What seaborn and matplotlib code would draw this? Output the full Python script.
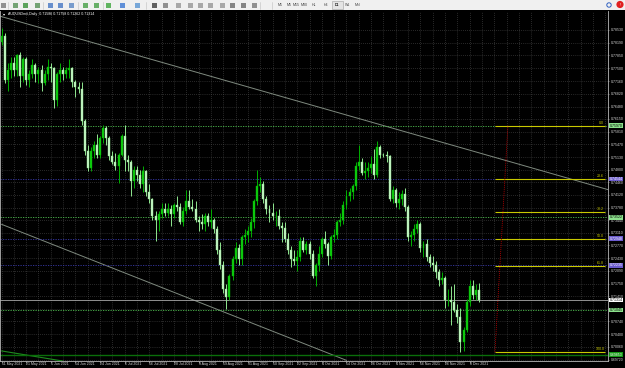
import numpy as np
import pandas as pd
import matplotlib
matplotlib.use("Agg")
import matplotlib.pyplot as plt
import matplotlib.transforms as mtransforms
from matplotlib.patches import Rectangle, Circle
import seaborn as sns

sns.set_style("dark")
plt.rcParams['font.family'] = ['Liberation Sans', 'DejaVu Sans']

# ---------------- data (AUDUSD daily) ----------------
opens = [0.7822,0.7838,0.7720,0.7745,0.7765,0.7745,0.7785,0.7730,0.7775,0.7720,
         0.7735,0.7760,0.7735,0.7745,0.7710,0.7735,0.7755,0.7750,0.7665,0.7735,
         0.7745,0.7735,0.7745,0.7750,0.7715,0.7700,0.7695,0.7610,0.7530,0.7485,
         0.7530,0.7545,0.7520,0.7565,0.7590,0.7565,0.7515,0.7500,0.7490,0.7520,
         0.7570,0.7505,0.7500,0.7450,0.7480,0.7465,0.7440,0.7475,0.7420,0.7400,
         0.7355,0.7345,0.7360,0.7375,0.7365,0.7375,0.7360,0.7385,0.7380,0.7340,
         0.7370,0.7395,0.7380,0.7375,0.7345,0.7340,0.7335,0.7355,0.7340,0.7345,
         0.7320,0.7265,0.7225,0.7160,0.7140,0.7195,0.7240,0.7270,0.7240,0.7300,
         0.7305,0.7315,0.7340,0.7395,0.7435,0.7440,0.7400,0.7375,0.7365,0.7355,
         0.7355,0.7330,0.7325,0.7295,0.7265,0.7240,0.7235,0.7245,0.7290,0.7265,
         0.7280,0.7255,0.7195,0.7225,0.7255,0.7295,0.7280,0.7250,0.7300,0.7305,
         0.7340,0.7345,0.7385,0.7410,0.7420,0.7435,0.7490,0.7500,0.7470,0.7475,
         0.7485,0.7495,0.7465,0.7540,0.7520,0.7518,0.7515,0.7400,0.7425,0.7390,
         0.7400,0.7415,0.7380,0.7300,0.7305,0.7320,0.7335,0.7270,0.7280,0.7245,
         0.7230,0.7225,0.7205,0.7185,0.7190,0.7130,0.7130,0.7125,0.7105,0.7085,
         0.7020,0.7050,0.7125,0.7170,0.7145,0.71586]
highs = [0.7858,0.7845,0.7765,0.7780,0.7780,0.7790,0.7795,0.7780,0.7780,0.7745,
         0.7775,0.7765,0.7755,0.7760,0.7745,0.7775,0.7765,0.7755,0.7740,0.7765,
         0.7755,0.7755,0.7775,0.7755,0.7720,0.7715,0.7715,0.7615,0.7545,0.7540,
         0.7555,0.7575,0.7570,0.7600,0.7595,0.7570,0.7530,0.7525,0.7525,0.7575,
         0.7600,0.7520,0.7505,0.7490,0.7490,0.7480,0.7490,0.7480,0.7440,0.7405,
         0.7370,0.7370,0.7390,0.7390,0.7390,0.7385,0.7390,0.7410,0.7390,0.7380,
         0.7425,0.7425,0.7400,0.7395,0.7355,0.7360,0.7365,0.7365,0.7375,0.7350,
         0.7330,0.7285,0.7235,0.7175,0.7200,0.7250,0.7285,0.7280,0.7305,0.7320,
         0.7330,0.7350,0.7400,0.7478,0.7460,0.7450,0.7410,0.7385,0.7390,0.7370,
         0.7375,0.7340,0.7340,0.7310,0.7275,0.7265,0.7265,0.7300,0.7300,0.7290,
         0.7290,0.7265,0.7230,0.7275,0.7300,0.7315,0.7285,0.7305,0.7320,0.7345,
         0.7365,0.7395,0.7425,0.7430,0.7440,0.7500,0.7545,0.7510,0.7500,0.7500,
         0.7515,0.7535,0.7556,0.7545,0.7524,0.7530,0.7520,0.7435,0.7430,0.7420,
         0.7425,0.7430,0.7385,0.7315,0.7335,0.7345,0.7340,0.7290,0.7295,0.7255,
         0.7250,0.7235,0.7215,0.7205,0.7195,0.7160,0.7170,0.7175,0.7120,0.7110,
         0.7060,0.7135,0.7185,0.7185,0.7175,0.71758]
lows = [0.7812,0.7712,0.7690,0.7725,0.7730,0.7730,0.7700,0.7715,0.7705,0.7700,
        0.7725,0.7715,0.7710,0.7690,0.7705,0.7720,0.7715,0.7645,0.7650,0.7715,
        0.7720,0.7725,0.7725,0.7700,0.7675,0.7685,0.7600,0.7520,0.7475,0.7475,
        0.7510,0.7510,0.7510,0.7550,0.7545,0.7505,0.7495,0.7480,0.7445,0.7515,
        0.7475,0.7475,0.7410,0.7430,0.7450,0.7430,0.7420,0.7410,0.7390,0.7345,
        0.7290,0.7315,0.7350,0.7355,0.7355,0.7330,0.7350,0.7370,0.7335,0.7330,
        0.7360,0.7375,0.7370,0.7340,0.7315,0.7320,0.7315,0.7330,0.7325,0.7310,
        0.7255,0.7215,0.7150,0.7106,0.7130,0.7185,0.7230,0.7225,0.7225,0.7280,
        0.7285,0.7300,0.7325,0.7385,0.7420,0.7390,0.7360,0.7340,0.7345,0.7330,
        0.7320,0.7285,0.7285,0.7255,0.7220,0.7225,0.7210,0.7235,0.7260,0.7255,
        0.7240,0.7190,0.7170,0.7210,0.7245,0.7270,0.7225,0.7240,0.7285,0.7295,
        0.7330,0.7335,0.7375,0.7395,0.7400,0.7425,0.7480,0.7465,0.7455,0.7460,
        0.7470,0.7455,0.7460,0.7510,0.7514,0.7500,0.7395,0.7390,0.7380,0.7375,
        0.7385,0.7370,0.7290,0.7275,0.7290,0.7310,0.7260,0.7245,0.7235,0.7220,
        0.7210,0.7190,0.7170,0.7175,0.7110,0.7115,0.7065,0.7100,0.7070,0.6993,
        0.6995,0.7045,0.7115,0.7135,0.7130,0.71262]
closes = [0.7838,0.7720,0.7745,0.7765,0.7745,0.7785,0.7730,0.7775,0.7720,0.7735,
          0.7760,0.7735,0.7745,0.7710,0.7735,0.7755,0.7750,0.7665,0.7735,0.7745,
          0.7735,0.7745,0.7750,0.7715,0.7700,0.7695,0.7610,0.7530,0.7485,0.7530,
          0.7545,0.7520,0.7565,0.7590,0.7565,0.7515,0.7500,0.7490,0.7520,0.7570,
          0.7505,0.7500,0.7450,0.7480,0.7465,0.7440,0.7475,0.7420,0.7400,0.7355,
          0.7345,0.7360,0.7375,0.7365,0.7375,0.7360,0.7385,0.7380,0.7340,0.7370,
          0.7395,0.7380,0.7375,0.7345,0.7340,0.7335,0.7355,0.7340,0.7345,0.7320,
          0.7265,0.7225,0.7160,0.7140,0.7195,0.7240,0.7270,0.7240,0.7300,0.7305,
          0.7315,0.7340,0.7395,0.7435,0.7440,0.7400,0.7375,0.7365,0.7355,0.7355,
          0.7330,0.7325,0.7295,0.7265,0.7240,0.7235,0.7245,0.7290,0.7265,0.7280,
          0.7255,0.7195,0.7225,0.7255,0.7295,0.7280,0.7250,0.7300,0.7305,0.7340,
          0.7345,0.7385,0.7410,0.7420,0.7435,0.7490,0.7500,0.7470,0.7475,0.7485,
          0.7495,0.7465,0.7540,0.7520,0.7518,0.7515,0.7400,0.7425,0.7390,0.7400,
          0.7415,0.7380,0.7300,0.7305,0.7320,0.7335,0.7270,0.7280,0.7245,0.7230,
          0.7225,0.7205,0.7185,0.7190,0.7130,0.7130,0.7125,0.7105,0.7085,0.7020,
          0.7050,0.7125,0.7170,0.7145,0.71586,0.71314]

date_labels = ["11 May 2021", "21 May 2021", "1 Jun 2021", "14 Jun 2021", "24 Jun 2021",
               "6 Jul 2021", "16 Jul 2021", "28 Jul 2021", "9 Aug 2021", "19 Aug 2021",
               "31 Aug 2021", "10 Sep 2021", "22 Sep 2021", "4 Oct 2021", "14 Oct 2021",
               "26 Oct 2021", "4 Nov 2021", "16 Nov 2021", "26 Nov 2021", "8 Dec 2021"]
price_ticks = [0.78530, 0.78190, 0.77850, 0.77500, 0.77160, 0.76820, 0.76480, 0.76150,
               0.75810, 0.75470, 0.75130, 0.74800, 0.74460, 0.74120, 0.73780, 0.73440,
               0.73110, 0.72770, 0.72430, 0.72090, 0.71750, 0.71410, 0.71070, 0.70740,
               0.70400, 0.70060, 0.69720]

fib_high = 0.75970
fib_low = 0.69926
fib_levels = [0.0, 23.6, 38.2, 50.0, 61.8, 100.0]
fib_from_bar, fib_to_bar = 160.2, 196.0
fib_anchor_bars = [160.2, 164.4]

hline_prices = [0.75970, 0.74544, 0.73522, 0.72948, 0.72235, 0.71045, 0.69853]
hline_kinds = ["green", "blue", "green", "blue", "blue", "green", "dark"]
bid_price = 0.71314

upper_trend_bars = [-1.0, 197.0]
upper_trend_prices = [0.78910, 0.74260]
lower_trend_bars = [0.0, 112.0]
lower_trend_prices = [0.73336, 0.69700]
green_trend_bars = [0.0, 20.0]
green_trend_prices = [0.69952, 0.69680]

header = "AUDUSDm#,Daily  0.71586 0.71758 0.71262 0.71314"
timeframes = ["M1", "M5", "M15", "M30", "H1", "H4", "D1", "W1", "MN"]

# ---------------- figure ----------------
W, H = 625, 368
fig = plt.figure(figsize=(W / 100, H / 100), dpi=100, facecolor="black")
ax = fig.add_axes([0, 7 / H, 608 / W, 350 / H])
ax.set_facecolor("black")

df = pd.DataFrame({"o": opens, "h": highs, "l": lows, "c": closes})
df["bar"] = np.arange(len(df))
bull = df["c"] >= df["o"]
bull_body, bull_wick = "#10d010", "#00b000"
bear_body, bear_wick = "#c8f5c8", "#90e890"

ax.vlines(df["bar"], df["l"], df["h"],
          colors=np.where(bull, bull_wick, bear_wick), lw=0.7, zorder=3)
bottoms = np.minimum(df["o"], df["c"])
heights = np.maximum((df["c"] - df["o"]).abs(), 0.00012)
ax.bar(df["bar"], heights, bottom=bottoms, width=0.64,
       color=np.where(bull, bull_body, bear_body),
       edgecolor=np.where(bull, bull_wick, bear_wick), linewidth=0.3, zorder=4)

# trend lines
sns.lineplot(x=upper_trend_bars, y=upper_trend_prices, ax=ax, color="#7f8a7f", lw=0.7, zorder=2)
sns.lineplot(x=lower_trend_bars, y=lower_trend_prices, ax=ax, color="#7f8a7f", lw=0.7, zorder=2)
sns.lineplot(x=green_trend_bars, y=green_trend_prices, ax=ax, color="#1e8c1e", lw=0.8, zorder=2)

# horizontal line objects
kind_style = {"green": ("#4fbf4f", (0, (1.5, 1.5)), 0.6),
              "blue": ("#3838a8", (0, (1.5, 1.5)), 0.6),
              "dark": ("#0a6e0a", "-", 1.0)}
for p, k in zip(hline_prices, hline_kinds):
    c, ls, lw = kind_style[k]
    ax.axhline(p, color=c, ls=ls, lw=lw, zorder=2)
ax.axhline(bid_price, color="#a8a8a8", lw=0.6, zorder=2)

# fibonacci retracement
fib_prices = [fib_high - (fib_high - fib_low) * lv / 100 for lv in fib_levels]
for lv, fp in zip(fib_levels, fib_prices):
    ax.hlines(fp, fib_from_bar, fib_to_bar, color="#c8c800", lw=0.8, zorder=5)
    ax.text(fib_to_bar - 0.3, fp + 0.0002, f"{lv:.1f}", color="#c8c800",
            fontsize=2.6, ha="right", va="bottom", zorder=6)
ax.plot(fib_anchor_bars, [fib_low, fib_high], color="#b00000", lw=0.6,
        ls=(0, (1.2, 1.2)), zorder=5)

# axes ranges
ax.set_xlim(-0.49, 196.9)
ax.set_ylim(0.696827, 0.790361)

# grid / ticks
n_grid = np.arange(0, 197, 4)
ax.set_xticks(n_grid)
ax.set_xticklabels([""] * len(n_grid))
ax.set_yticks(price_ticks)
ax.yaxis.tick_right()
ax.set_yticklabels([f"{p:.5f}" for p in price_ticks], fontsize=2.5, color="#d8d8d8")
ax.tick_params(axis="y", length=1.0, width=0.4, color="#c0c0c0", pad=0.8)
ax.tick_params(axis="x", length=0)
ax.grid(True, color="#505050", lw=0.5, ls=(0, (1, 2)))
ax.spines["top"].set_visible(False)
for s in ["right", "bottom", "left"]:
    ax.spines[s].set_color("#b8b8b8")
    ax.spines[s].set_linewidth(0.6)

# date labels every 8 bars
trans_x = mtransforms.blended_transform_factory(ax.transData, ax.transAxes)
for k, lab in enumerate(date_labels):
    b = 8 * k
    ax.text(b, -0.004, lab, transform=trans_x, fontsize=2.5, color="#d8d8d8",
            ha="left", va="top", clip_on=False)
    ax.plot([b, b], [0, -0.006], transform=trans_x, color="#c0c0c0", lw=0.4, clip_on=False)

# price boxes on axis
trans_y = mtransforms.blended_transform_factory(ax.transAxes, ax.transData)
box_style = {"green": ("#8be08b", "black"), "blue": ("#6a5acd", "white"),
             "dark": ("#149a14", "white")}
for p, k in zip(hline_prices, hline_kinds):
    bg, fg = box_style[k]
    ax.text(1.003, p, f"{p:.5f}", transform=trans_y, fontsize=2.5, color=fg,
            ha="left", va="center", clip_on=False, zorder=10,
            bbox=dict(boxstyle="square,pad=0.1", fc=bg, ec="none"))
ax.text(1.003, bid_price, f"{bid_price:.5f}", transform=trans_y, fontsize=2.5,
        color="black", ha="left", va="center", clip_on=False, zorder=10,
        bbox=dict(boxstyle="square,pad=0.1", fc="white", ec="none"))

# header
fig.text(3 / W, 1 - 14 / H, "\u25be", color="white", fontsize=3, va="center",
         family=["DejaVu Sans"])
fig.text(8 / W, 1 - 14 / H, header, color="white", fontsize=2.6, va="center")

# toolbar
tb = fig.add_axes([0, 1 - 10 / H, 1, 10 / H])
tb.set_facecolor("#f0f0f0")
tb.set_xlim(0, W)
tb.set_ylim(10, 0)
tb.set_axis_off()
tb.add_patch(Rectangle((0, 0), W, 10, fc="#f0f0f0", ec="none"))
icon_x = [3, 15, 25, 37, 50, 60, 71, 85, 96, 108, 122, 137, 154, 165, 178, 190, 200,
          210, 222, 232, 243, 254]
icon_c = ["#707070", "#4a8a4a", "#2a8a2a", "#4a8a4a", "#3a6fc0", "#3a6fc0", "#5080c0",
          "#3a9a3a", "#3a9a3a", "#30a030", "#2f6fd0", "#4f8fd0", "#303030", "#707070",
          "#909090", "#909090", "#909090", "#909090", "#909090", "#606060", "#606060",
          "#707070"]
for x, c in zip(icon_x, icon_c):
    tb.add_patch(Rectangle((x - 2.5, 2.5), 5, 5, fc=c, ec="none", alpha=0.75))
for x in [8, 43, 78, 103, 146, 260, 272]:
    tb.plot([x, x], [1.5, 8.5], color="#c8c8c8", lw=0.5)
tf_x = [280, 289, 296, 304, 314.5, 325.5, 337, 347.5, 357.5]
for x, t in zip(tf_x, timeframes):
    tb.text(x, 5, t, fontsize=2.6, color="#404040", ha="center", va="center")
tb.add_patch(Rectangle((331.5, 1.2), 11, 7.6, fc="#e4e4e4", ec="#a0a0a0", lw=0.4))
tb.text(337, 5, "D1", fontsize=2.6, color="#202020", ha="center", va="center", zorder=5)
tb.add_patch(Circle((609, 5), 2.2, fc="none", ec="#3060c0", lw=0.7))
tb.add_patch(Circle((620, 4.5), 3.6, fc="#e02020", ec="none"))
tb.text(620, 4.7, "!", fontsize=3, color="white", ha="center", va="center")

fig.savefig("out.png", dpi=100, facecolor="black")
